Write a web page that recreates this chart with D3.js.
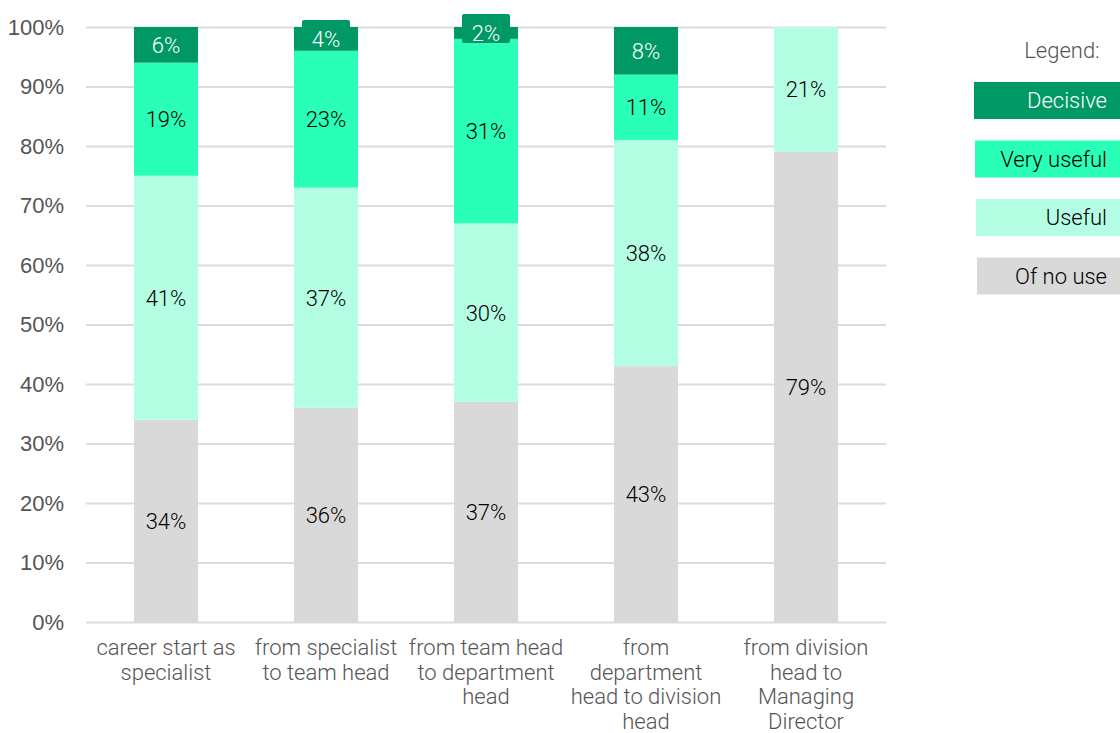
<!DOCTYPE html>
<html>
<head>
<meta charset="utf-8">
<script src="https://cdn.jsdelivr.net/npm/d3@7"></script>
<style>
  html, body { margin: 0; padding: 0; background: #fff; }
  svg { display: block; font-family: Roboto, "Noto Sans", sans-serif; }
</style>
</head>
<body>
<svg id="chart" width="1120" height="733"></svg>
<script>
// Career steps (each label split into its display lines)
const categories = [
  ["career start as", "specialist"],
  ["from specialist", "to team head"],
  ["from team head", "to department", "head"],
  ["from", "department", "head to division", "head"],
  ["from division", "head to", "Managing", "Director"]
];

// Share of answers per step, in percent (bottom to top of each stack)
const ofNoUse    = [34, 36, 37, 43, 79];
const useful     = [41, 37, 30, 38, 21];
const veryUseful = [19, 23, 31, 11, 0];
const decisive   = [6, 4, 2, 8, 0];

const seriesNames  = ["Of no use", "Useful", "Very useful", "Decisive"];
const seriesColors = ["#d9d9d9", "#b4ffe4", "#29ffb6", "#009966"];
const labelColors  = ["#000", "#000", "#000", "#fff"];

const yTicks = [0, 10, 20, 30, 40, 50, 60, 70, 80, 90, 100];

const svg = d3.select("#chart");
const margin = { left: 86, right: 886, top: 27, bottom: 622 };

const rows = categories.map((c, i) => ({
  key: i,
  "Of no use": ofNoUse[i],
  "Useful": useful[i],
  "Very useful": veryUseful[i],
  "Decisive": decisive[i]
}));

const x = d3.scaleBand()
  .domain(d3.range(categories.length))
  .range([margin.left, margin.right])
  .paddingInner(0.6)
  .paddingOuter(0.3);

const y = d3.scaleLinear().domain([0, 100]).range([margin.bottom, margin.top]);

// Gridlines and tick labels
const yAxis = svg.append("g")
  .attr("transform", `translate(${margin.left},0)`)
  .call(d3.axisLeft(y)
    .tickValues(yTicks)
    .tickSize(-(margin.right - margin.left))
    .tickFormat(d => d + "%"));
yAxis.select(".domain").remove();
yAxis.selectAll(".tick line").attr("stroke", "#dcdcdc").attr("stroke-width", 2);
yAxis.selectAll(".tick text")
  .attr("x", -22)
  .attr("fill", "#555")
  .attr("font-size", 22)
  .attr("font-weight", 300);

// Stacked bars
const stack = d3.stack().keys(seriesNames);
const layers = stack(rows);

const layerG = svg.append("g").selectAll("g")
  .data(layers)
  .join("g")
  .attr("fill", (d, i) => seriesColors[i]);

layerG.selectAll("rect")
  .data(d => d.filter(s => s[1] - s[0] > 0))
  .join("rect")
  .attr("x", d => x(d.data.key))
  .attr("width", x.bandwidth())
  .attr("y", d => y(d[1]))
  .attr("height", d => y(d[0]) - y(d[1]));

// Value labels; short segments get a tag in the segment colour
const labelG = svg.append("g");
layers.forEach((layer, li) => {
  layer.forEach(seg => {
    const v = seg[1] - seg[0];
    if (v <= 0) return;
    const cx = x(seg.data.key) + x.bandwidth() / 2;
    const cy = (y(seg[0]) + y(seg[1])) / 2;
    const h = y(seg[0]) - y(seg[1]);
    if (h < 30) {
      labelG.append("rect")
        .attr("x", cx - 24)
        .attr("y", cy - 19)
        .attr("width", 48)
        .attr("height", 29)
        .attr("rx", 2)
        .attr("fill", seriesColors[li]);
    }
    labelG.append("text")
      .attr("x", cx)
      .attr("y", cy)
      .attr("dy", "0.36em")
      .attr("text-anchor", "middle")
      .attr("font-size", 22)
      .attr("font-weight", 300)
      .attr("fill", labelColors[li])
      .text(v + "%");
  });
});

// Category labels under the bars
const catG = svg.append("g");
categories.forEach((lines, i) => {
  const t = catG.append("text")
    .attr("text-anchor", "middle")
    .attr("font-size", 22)
    .attr("font-weight", 300)
    .attr("fill", "#555");
  lines.forEach((ln, j) => {
    t.append("tspan")
      .attr("x", x(i) + x.bandwidth() / 2)
      .attr("y", 655 + j * 24.5)
      .text(ln);
  });
});

// Legend
const legend = svg.append("g");
legend.append("text")
  .attr("x", 1062)
  .attr("y", 58)
  .attr("text-anchor", "middle")
  .attr("font-size", 22)
  .attr("font-weight", 300)
  .attr("fill", "#555")
  .text("Legend:");

const legendOrder = [3, 2, 1, 0];
legendOrder.forEach((si, k) => {
  const top = 82 + k * 58.5;
  legend.append("rect")
    .attr("x", 974 + k)
    .attr("y", top)
    .attr("width", 150)
    .attr("height", 37)
    .attr("fill", seriesColors[si]);
  legend.append("text")
    .attr("x", 1107)
    .attr("y", top + 18.5)
    .attr("dy", "0.36em")
    .attr("text-anchor", "end")
    .attr("font-size", 22)
    .attr("font-weight", 300)
    .attr("fill", labelColors[si])
    .text(seriesNames[si]);
});
</script>
</body>
</html>
